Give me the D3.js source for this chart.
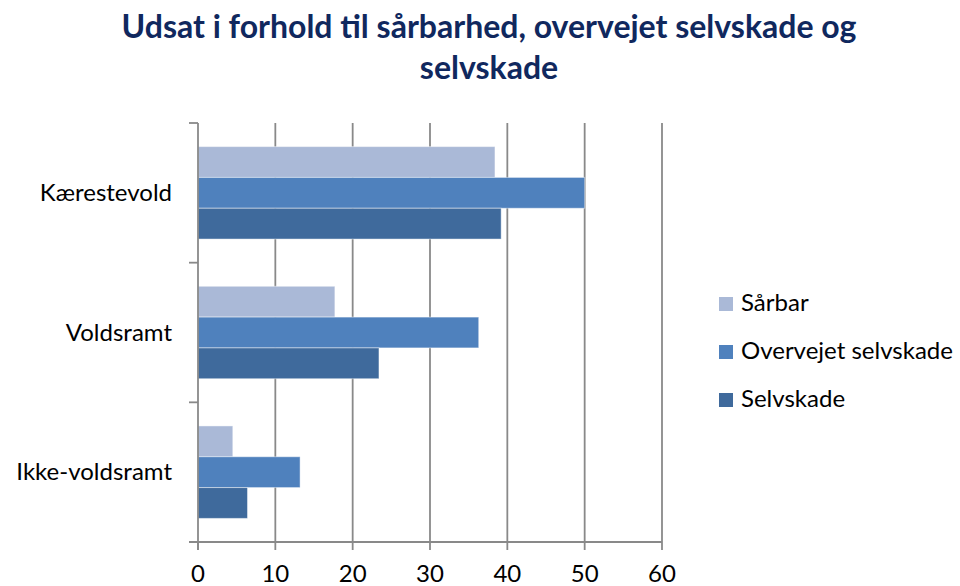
<!DOCTYPE html>
<html><head><meta charset="utf-8">
<script src="https://cdn.jsdelivr.net/npm/d3@7"></script>
<style>body{margin:0;background:#fff}svg{display:block}</style>
</head><body>
<svg id="c" width="960" height="586"></svg>
<script>
const titleLines = ["Udsat i forhold til sårbarhed, overvejet selvskade og", "selvskade"];
const categories = ["Kærestevold", "Voldsramt", "Ikke-voldsramt"];
const seriesNames = ["Sårbar", "Overvejet selvskade", "Selvskade"];
const sarbar = [38.4, 17.7, 4.5];
const overvejet = [50.0, 36.3, 13.2];
const selvskade = [39.2, 23.4, 6.4];
const xTicks = [0, 10, 20, 30, 40, 50, 60];
const colors = ["#AAB9D7", "#4F81BD", "#3F6A9C"];

const series = [sarbar, overvejet, selvskade];
const svg = d3.select("#c");
const font = "Lato, 'Open Sans', sans-serif";
const L = 198, R = 662, T = 123, B = 542;

const x = d3.scaleLinear().domain([0, 60]).range([L, R]);
const y0 = d3.scaleBand().domain(categories).range([T, B]).paddingInner(0.338).paddingOuter(0.169);
const y1 = d3.scaleBand().domain(seriesNames).range([0, y0.bandwidth()]);

// gridlines
svg.append("g").selectAll("line").data(xTicks.slice(1)).join("line")
  .attr("x1", d => x(d)).attr("x2", d => x(d)).attr("y1", T).attr("y2", B)
  .attr("stroke", "#898989").attr("stroke-width", 1.8);

// bars
const g = svg.append("g");
categories.forEach((c, i) => {
  seriesNames.forEach((s, j) => {
    g.append("rect")
      .attr("x", x(0)).attr("y", y0(c) + y1(s))
      .attr("width", x(series[j][i]) - x(0)).attr("height", y1.bandwidth())
      .attr("fill", colors[j]).attr("stroke", "rgba(255,255,255,0.45)").attr("stroke-width", 1);
  });
});

// left axis
svg.append("line").attr("x1", L).attr("x2", L).attr("y1", T).attr("y2", B + 8)
  .attr("stroke", "#898989").attr("stroke-width", 1.8);
svg.append("g").selectAll("line").data(d3.range(categories.length + 1)).join("line")
  .attr("x1", L - 9).attr("x2", L).attr("y1", i => T + i * (B - T) / categories.length).attr("y2", i => T + i * (B - T) / categories.length)
  .attr("stroke", "#898989").attr("stroke-width", 1.8);
// bottom axis
svg.append("line").attr("x1", L - 9).attr("x2", R).attr("y1", B).attr("y2", B)
  .attr("stroke", "#898989").attr("stroke-width", 1.8);
svg.append("g").selectAll("line").data(xTicks).join("line")
  .attr("x1", d => x(d)).attr("x2", d => x(d)).attr("y1", B).attr("y2", B + 8)
  .attr("stroke", "#898989").attr("stroke-width", 1.8);

// x tick labels
svg.append("g").selectAll("text").data(xTicks).join("text")
  .attr("x", d => x(d)).attr("y", 582).attr("text-anchor", "middle")
  .attr("font-family", font).attr("font-size", 24).attr("fill", "#000").text(d => d);

// category labels
svg.append("g").selectAll("text").data(categories).join("text")
  .attr("x", 172).attr("y", c => y0(c) + y0.bandwidth() / 2 + 8).attr("text-anchor", "end")
  .attr("font-family", font).attr("font-size", 24).attr("fill", "#000").text(c => c);

// title
svg.append("g").selectAll("text").data(titleLines).join("text")
  .attr("x", 489).attr("y", (d, i) => 38 + i * 41).attr("text-anchor", "middle")
  .attr("font-family", font).attr("font-weight", "bold").attr("font-size", 32).attr("fill", "#10285E").text(d => d);

// legend
const lg = svg.append("g").selectAll("g").data(seriesNames).join("g")
  .attr("transform", (d, i) => `translate(719,${297 + i * 48})`);
lg.append("rect").attr("width", 14).attr("height", 14).attr("fill", (d, i) => colors[i]);
lg.append("text").attr("x", 22).attr("y", 14).attr("font-family", font).attr("font-size", 24)
  .attr("fill", "#000").text(d => d);
</script>
</body></html>
